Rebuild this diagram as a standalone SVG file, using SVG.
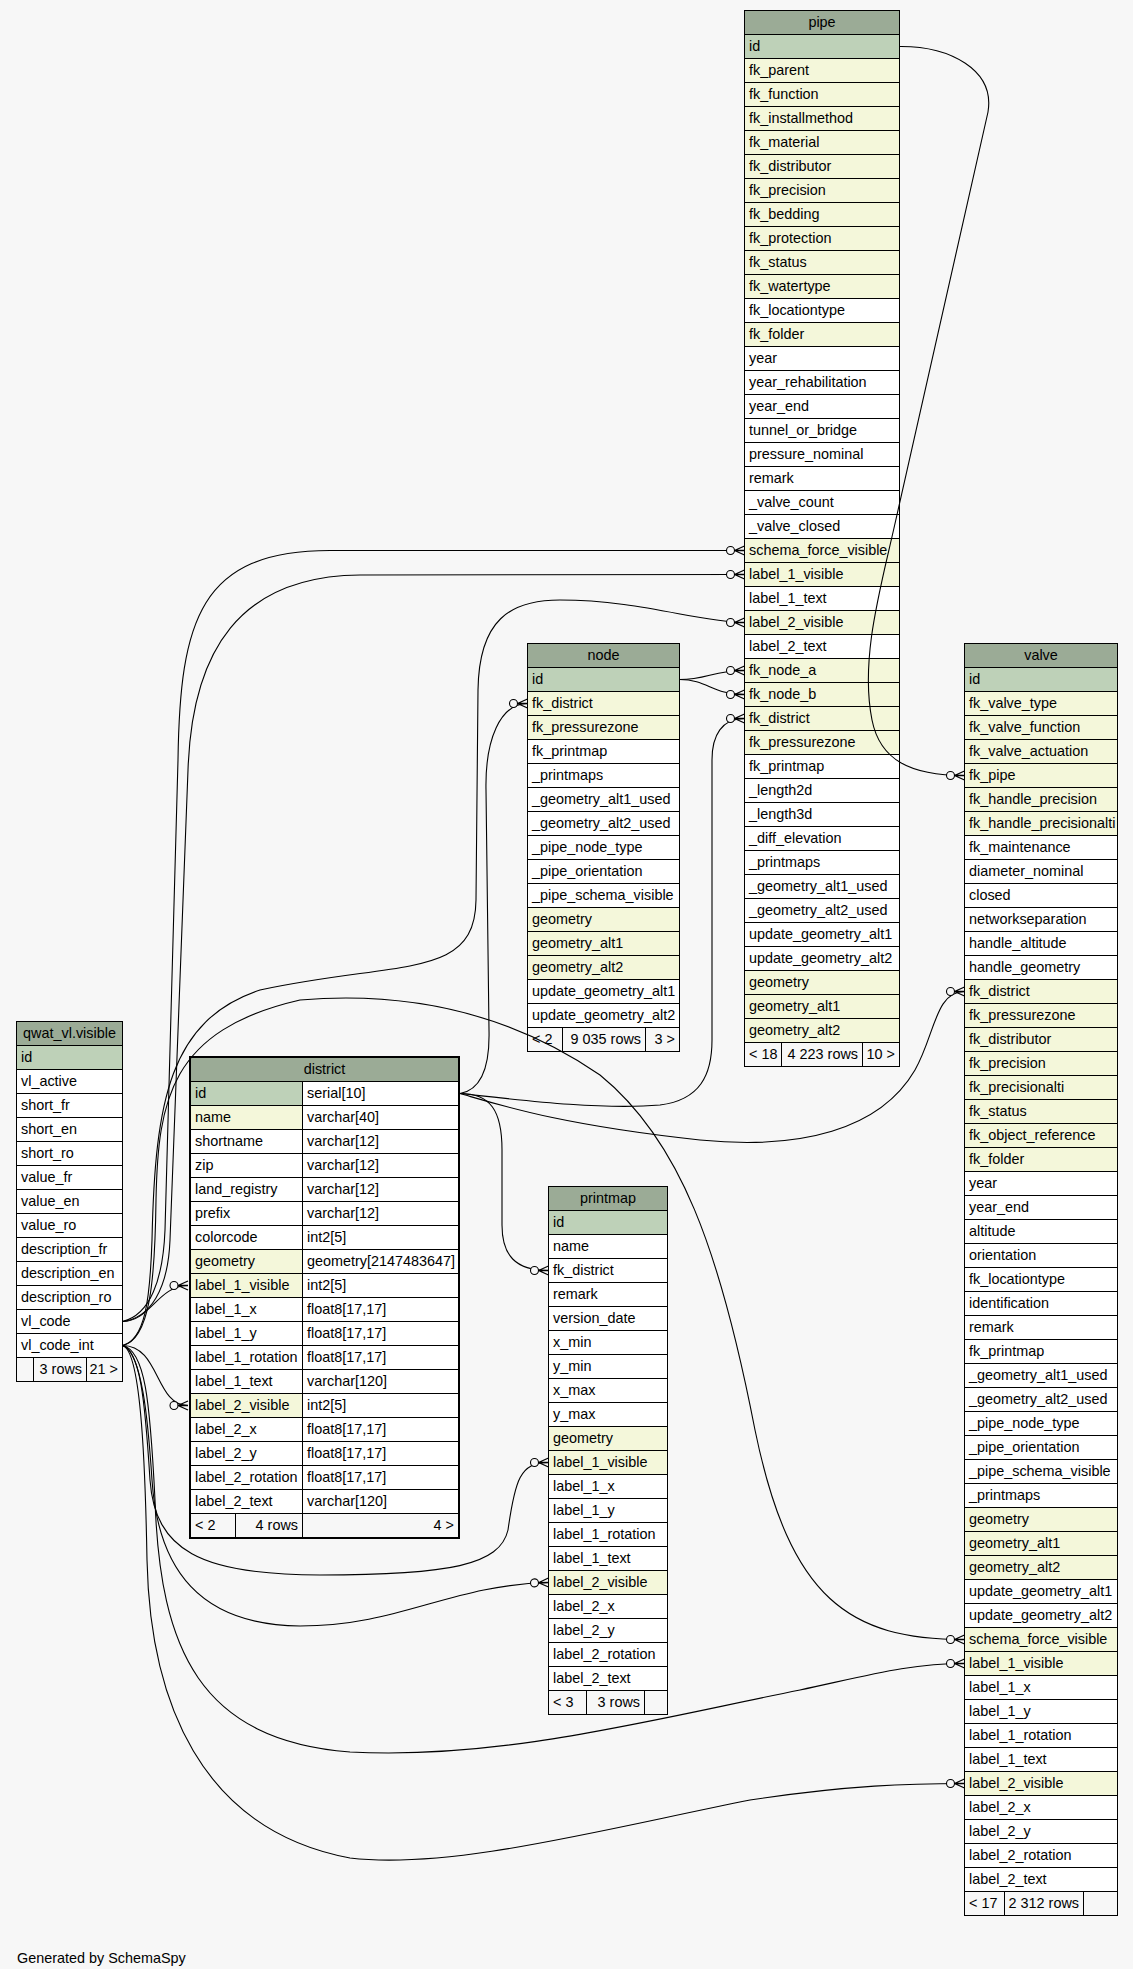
<svg xmlns="http://www.w3.org/2000/svg" width="1133" height="1969" viewBox="0 0 1133 1969">
<style>
text{font-family:"Liberation Sans",Arial,Helvetica,sans-serif;font-size:14.4px;fill:#000}
.c{text-anchor:middle}
.r{text-anchor:end}
rect{stroke:#000;stroke-width:1}
rect.bg{stroke:none;fill:#f7f7f7}
.h{fill:#9bab96}
.k{fill:#bed1b8}
.f{fill:#f4f7da}
.w{fill:#fff}
.g{fill:#f7f7f7}
.e{fill:none;stroke:#000;stroke-width:1.1;marker-end:url(#co)}
</style>
<defs>
<marker id="co" markerWidth="24" markerHeight="14" viewBox="-21 -7 24 14" refX="0" refY="0" orient="auto" markerUnits="userSpaceOnUse" overflow="visible">
<circle cx="-14" cy="0" r="4" fill="#f7f7f7" stroke="#000" stroke-width="1.1"/>
<path d="M-10,0 L0,-4.5 M-10,0 L0,0 M-10,0 L0,4.5" fill="none" stroke="#000" stroke-width="1.3"/>
</marker>
</defs>
<rect class="bg" x="0" y="0" width="1133" height="1969"/>

<g id="pipe">
<rect class="h" x="744.5" y="10.5" width="155" height="24"/><text class="c" x="822" y="26.5">pipe</text>
<rect class="k" x="744.5" y="34.5" width="155" height="24"/><text x="749" y="50.5">id</text>
<rect class="f" x="744.5" y="58.5" width="155" height="24"/><text x="749" y="74.5">fk_parent</text>
<rect class="f" x="744.5" y="82.5" width="155" height="24"/><text x="749" y="98.5">fk_function</text>
<rect class="f" x="744.5" y="106.5" width="155" height="24"/><text x="749" y="122.5">fk_installmethod</text>
<rect class="f" x="744.5" y="130.5" width="155" height="24"/><text x="749" y="146.5">fk_material</text>
<rect class="f" x="744.5" y="154.5" width="155" height="24"/><text x="749" y="170.5">fk_distributor</text>
<rect class="f" x="744.5" y="178.5" width="155" height="24"/><text x="749" y="194.5">fk_precision</text>
<rect class="f" x="744.5" y="202.5" width="155" height="24"/><text x="749" y="218.5">fk_bedding</text>
<rect class="f" x="744.5" y="226.5" width="155" height="24"/><text x="749" y="242.5">fk_protection</text>
<rect class="f" x="744.5" y="250.5" width="155" height="24"/><text x="749" y="266.5">fk_status</text>
<rect class="f" x="744.5" y="274.5" width="155" height="24"/><text x="749" y="290.5">fk_watertype</text>
<rect class="w" x="744.5" y="298.5" width="155" height="24"/><text x="749" y="314.5">fk_locationtype</text>
<rect class="f" x="744.5" y="322.5" width="155" height="24"/><text x="749" y="338.5">fk_folder</text>
<rect class="w" x="744.5" y="346.5" width="155" height="24"/><text x="749" y="362.5">year</text>
<rect class="w" x="744.5" y="370.5" width="155" height="24"/><text x="749" y="386.5">year_rehabilitation</text>
<rect class="w" x="744.5" y="394.5" width="155" height="24"/><text x="749" y="410.5">year_end</text>
<rect class="w" x="744.5" y="418.5" width="155" height="24"/><text x="749" y="434.5">tunnel_or_bridge</text>
<rect class="w" x="744.5" y="442.5" width="155" height="24"/><text x="749" y="458.5">pressure_nominal</text>
<rect class="w" x="744.5" y="466.5" width="155" height="24"/><text x="749" y="482.5">remark</text>
<rect class="w" x="744.5" y="490.5" width="155" height="24"/><text x="749" y="506.5">_valve_count</text>
<rect class="w" x="744.5" y="514.5" width="155" height="24"/><text x="749" y="530.5">_valve_closed</text>
<rect class="f" x="744.5" y="538.5" width="155" height="24"/><text x="749" y="554.5">schema_force_visible</text>
<rect class="f" x="744.5" y="562.5" width="155" height="24"/><text x="749" y="578.5">label_1_visible</text>
<rect class="w" x="744.5" y="586.5" width="155" height="24"/><text x="749" y="602.5">label_1_text</text>
<rect class="f" x="744.5" y="610.5" width="155" height="24"/><text x="749" y="626.5">label_2_visible</text>
<rect class="w" x="744.5" y="634.5" width="155" height="24"/><text x="749" y="650.5">label_2_text</text>
<rect class="f" x="744.5" y="658.5" width="155" height="24"/><text x="749" y="674.5">fk_node_a</text>
<rect class="f" x="744.5" y="682.5" width="155" height="24"/><text x="749" y="698.5">fk_node_b</text>
<rect class="f" x="744.5" y="706.5" width="155" height="24"/><text x="749" y="722.5">fk_district</text>
<rect class="f" x="744.5" y="730.5" width="155" height="24"/><text x="749" y="746.5">fk_pressurezone</text>
<rect class="w" x="744.5" y="754.5" width="155" height="24"/><text x="749" y="770.5">fk_printmap</text>
<rect class="w" x="744.5" y="778.5" width="155" height="24"/><text x="749" y="794.5">_length2d</text>
<rect class="w" x="744.5" y="802.5" width="155" height="24"/><text x="749" y="818.5">_length3d</text>
<rect class="w" x="744.5" y="826.5" width="155" height="24"/><text x="749" y="842.5">_diff_elevation</text>
<rect class="w" x="744.5" y="850.5" width="155" height="24"/><text x="749" y="866.5">_printmaps</text>
<rect class="w" x="744.5" y="874.5" width="155" height="24"/><text x="749" y="890.5">_geometry_alt1_used</text>
<rect class="w" x="744.5" y="898.5" width="155" height="24"/><text x="749" y="914.5">_geometry_alt2_used</text>
<rect class="w" x="744.5" y="922.5" width="155" height="24"/><text x="749" y="938.5">update_geometry_alt1</text>
<rect class="w" x="744.5" y="946.5" width="155" height="24"/><text x="749" y="962.5">update_geometry_alt2</text>
<rect class="f" x="744.5" y="970.5" width="155" height="24"/><text x="749" y="986.5">geometry</text>
<rect class="f" x="744.5" y="994.5" width="155" height="24"/><text x="749" y="1010.5">geometry_alt1</text>
<rect class="f" x="744.5" y="1018.5" width="155" height="24"/><text x="749" y="1034.5">geometry_alt2</text>
<rect class="g" x="744.5" y="1042.5" width="37" height="24"/><text x="749" y="1058.5">&lt; 18</text>
<rect class="g" x="781.5" y="1042.5" width="81" height="24"/><text class="r" x="858" y="1058.5">4 223 rows</text>
<rect class="g" x="862.5" y="1042.5" width="37" height="24"/><text class="r" x="895" y="1058.5">10 &gt;</text>
</g>

<g id="node">
<rect class="h" x="527.5" y="643.5" width="152" height="24"/><text class="c" x="603.5" y="659.5">node</text>
<rect class="k" x="527.5" y="667.5" width="152" height="24"/><text x="532" y="683.5">id</text>
<rect class="f" x="527.5" y="691.5" width="152" height="24"/><text x="532" y="707.5">fk_district</text>
<rect class="f" x="527.5" y="715.5" width="152" height="24"/><text x="532" y="731.5">fk_pressurezone</text>
<rect class="w" x="527.5" y="739.5" width="152" height="24"/><text x="532" y="755.5">fk_printmap</text>
<rect class="w" x="527.5" y="763.5" width="152" height="24"/><text x="532" y="779.5">_printmaps</text>
<rect class="w" x="527.5" y="787.5" width="152" height="24"/><text x="532" y="803.5">_geometry_alt1_used</text>
<rect class="w" x="527.5" y="811.5" width="152" height="24"/><text x="532" y="827.5">_geometry_alt2_used</text>
<rect class="w" x="527.5" y="835.5" width="152" height="24"/><text x="532" y="851.5">_pipe_node_type</text>
<rect class="w" x="527.5" y="859.5" width="152" height="24"/><text x="532" y="875.5">_pipe_orientation</text>
<rect class="w" x="527.5" y="883.5" width="152" height="24"/><text x="532" y="899.5">_pipe_schema_visible</text>
<rect class="f" x="527.5" y="907.5" width="152" height="24"/><text x="532" y="923.5">geometry</text>
<rect class="f" x="527.5" y="931.5" width="152" height="24"/><text x="532" y="947.5">geometry_alt1</text>
<rect class="f" x="527.5" y="955.5" width="152" height="24"/><text x="532" y="971.5">geometry_alt2</text>
<rect class="w" x="527.5" y="979.5" width="152" height="24"/><text x="532" y="995.5">update_geometry_alt1</text>
<rect class="w" x="527.5" y="1003.5" width="152" height="24"/><text x="532" y="1019.5">update_geometry_alt2</text>
<rect class="g" x="527.5" y="1027.5" width="35" height="24"/><text x="532" y="1043.5">&lt; 2</text>
<rect class="g" x="562.5" y="1027.5" width="83" height="24"/><text class="r" x="641" y="1043.5">9 035 rows</text>
<rect class="g" x="645.5" y="1027.5" width="34" height="24"/><text class="r" x="675" y="1043.5">3 &gt;</text>
</g>

<g id="valve">
<rect class="h" x="964.5" y="643.5" width="153" height="24"/><text class="c" x="1041" y="659.5">valve</text>
<rect class="k" x="964.5" y="667.5" width="153" height="24"/><text x="969" y="683.5">id</text>
<rect class="f" x="964.5" y="691.5" width="153" height="24"/><text x="969" y="707.5">fk_valve_type</text>
<rect class="f" x="964.5" y="715.5" width="153" height="24"/><text x="969" y="731.5">fk_valve_function</text>
<rect class="f" x="964.5" y="739.5" width="153" height="24"/><text x="969" y="755.5">fk_valve_actuation</text>
<rect class="f" x="964.5" y="763.5" width="153" height="24"/><text x="969" y="779.5">fk_pipe</text>
<rect class="f" x="964.5" y="787.5" width="153" height="24"/><text x="969" y="803.5">fk_handle_precision</text>
<rect class="f" x="964.5" y="811.5" width="153" height="24"/><text x="969" y="827.5">fk_handle_precisionalti</text>
<rect class="w" x="964.5" y="835.5" width="153" height="24"/><text x="969" y="851.5">fk_maintenance</text>
<rect class="w" x="964.5" y="859.5" width="153" height="24"/><text x="969" y="875.5">diameter_nominal</text>
<rect class="w" x="964.5" y="883.5" width="153" height="24"/><text x="969" y="899.5">closed</text>
<rect class="w" x="964.5" y="907.5" width="153" height="24"/><text x="969" y="923.5">networkseparation</text>
<rect class="w" x="964.5" y="931.5" width="153" height="24"/><text x="969" y="947.5">handle_altitude</text>
<rect class="w" x="964.5" y="955.5" width="153" height="24"/><text x="969" y="971.5">handle_geometry</text>
<rect class="f" x="964.5" y="979.5" width="153" height="24"/><text x="969" y="995.5">fk_district</text>
<rect class="f" x="964.5" y="1003.5" width="153" height="24"/><text x="969" y="1019.5">fk_pressurezone</text>
<rect class="f" x="964.5" y="1027.5" width="153" height="24"/><text x="969" y="1043.5">fk_distributor</text>
<rect class="f" x="964.5" y="1051.5" width="153" height="24"/><text x="969" y="1067.5">fk_precision</text>
<rect class="f" x="964.5" y="1075.5" width="153" height="24"/><text x="969" y="1091.5">fk_precisionalti</text>
<rect class="f" x="964.5" y="1099.5" width="153" height="24"/><text x="969" y="1115.5">fk_status</text>
<rect class="f" x="964.5" y="1123.5" width="153" height="24"/><text x="969" y="1139.5">fk_object_reference</text>
<rect class="f" x="964.5" y="1147.5" width="153" height="24"/><text x="969" y="1163.5">fk_folder</text>
<rect class="w" x="964.5" y="1171.5" width="153" height="24"/><text x="969" y="1187.5">year</text>
<rect class="w" x="964.5" y="1195.5" width="153" height="24"/><text x="969" y="1211.5">year_end</text>
<rect class="w" x="964.5" y="1219.5" width="153" height="24"/><text x="969" y="1235.5">altitude</text>
<rect class="w" x="964.5" y="1243.5" width="153" height="24"/><text x="969" y="1259.5">orientation</text>
<rect class="w" x="964.5" y="1267.5" width="153" height="24"/><text x="969" y="1283.5">fk_locationtype</text>
<rect class="w" x="964.5" y="1291.5" width="153" height="24"/><text x="969" y="1307.5">identification</text>
<rect class="w" x="964.5" y="1315.5" width="153" height="24"/><text x="969" y="1331.5">remark</text>
<rect class="w" x="964.5" y="1339.5" width="153" height="24"/><text x="969" y="1355.5">fk_printmap</text>
<rect class="w" x="964.5" y="1363.5" width="153" height="24"/><text x="969" y="1379.5">_geometry_alt1_used</text>
<rect class="w" x="964.5" y="1387.5" width="153" height="24"/><text x="969" y="1403.5">_geometry_alt2_used</text>
<rect class="w" x="964.5" y="1411.5" width="153" height="24"/><text x="969" y="1427.5">_pipe_node_type</text>
<rect class="w" x="964.5" y="1435.5" width="153" height="24"/><text x="969" y="1451.5">_pipe_orientation</text>
<rect class="w" x="964.5" y="1459.5" width="153" height="24"/><text x="969" y="1475.5">_pipe_schema_visible</text>
<rect class="w" x="964.5" y="1483.5" width="153" height="24"/><text x="969" y="1499.5">_printmaps</text>
<rect class="f" x="964.5" y="1507.5" width="153" height="24"/><text x="969" y="1523.5">geometry</text>
<rect class="f" x="964.5" y="1531.5" width="153" height="24"/><text x="969" y="1547.5">geometry_alt1</text>
<rect class="f" x="964.5" y="1555.5" width="153" height="24"/><text x="969" y="1571.5">geometry_alt2</text>
<rect class="w" x="964.5" y="1579.5" width="153" height="24"/><text x="969" y="1595.5">update_geometry_alt1</text>
<rect class="w" x="964.5" y="1603.5" width="153" height="24"/><text x="969" y="1619.5">update_geometry_alt2</text>
<rect class="f" x="964.5" y="1627.5" width="153" height="24"/><text x="969" y="1643.5">schema_force_visible</text>
<rect class="f" x="964.5" y="1651.5" width="153" height="24"/><text x="969" y="1667.5">label_1_visible</text>
<rect class="w" x="964.5" y="1675.5" width="153" height="24"/><text x="969" y="1691.5">label_1_x</text>
<rect class="w" x="964.5" y="1699.5" width="153" height="24"/><text x="969" y="1715.5">label_1_y</text>
<rect class="w" x="964.5" y="1723.5" width="153" height="24"/><text x="969" y="1739.5">label_1_rotation</text>
<rect class="w" x="964.5" y="1747.5" width="153" height="24"/><text x="969" y="1763.5">label_1_text</text>
<rect class="f" x="964.5" y="1771.5" width="153" height="24"/><text x="969" y="1787.5">label_2_visible</text>
<rect class="w" x="964.5" y="1795.5" width="153" height="24"/><text x="969" y="1811.5">label_2_x</text>
<rect class="w" x="964.5" y="1819.5" width="153" height="24"/><text x="969" y="1835.5">label_2_y</text>
<rect class="w" x="964.5" y="1843.5" width="153" height="24"/><text x="969" y="1859.5">label_2_rotation</text>
<rect class="w" x="964.5" y="1867.5" width="153" height="24"/><text x="969" y="1883.5">label_2_text</text>
<rect class="g" x="964.5" y="1891.5" width="40" height="24"/><text x="969" y="1907.5">&lt; 17</text>
<rect class="g" x="1004.5" y="1891.5" width="79" height="24"/><text class="r" x="1079" y="1907.5">2 312 rows</text>
<rect class="g" x="1083.5" y="1891.5" width="34" height="24"/>
</g>

<g id="district">
<rect class="h" x="190.5" y="1057.5" width="268" height="24"/><text class="c" x="324.5" y="1073.5">district</text>
<rect class="k" x="190.5" y="1081.5" width="112" height="24"/><text x="195" y="1097.5">id</text><rect class="w" x="302.5" y="1081.5" width="156" height="24"/><text x="307" y="1097.5">serial[10]</text>
<rect class="f" x="190.5" y="1105.5" width="112" height="24"/><text x="195" y="1121.5">name</text><rect class="w" x="302.5" y="1105.5" width="156" height="24"/><text x="307" y="1121.5">varchar[40]</text>
<rect class="w" x="190.5" y="1129.5" width="112" height="24"/><text x="195" y="1145.5">shortname</text><rect class="w" x="302.5" y="1129.5" width="156" height="24"/><text x="307" y="1145.5">varchar[12]</text>
<rect class="w" x="190.5" y="1153.5" width="112" height="24"/><text x="195" y="1169.5">zip</text><rect class="w" x="302.5" y="1153.5" width="156" height="24"/><text x="307" y="1169.5">varchar[12]</text>
<rect class="w" x="190.5" y="1177.5" width="112" height="24"/><text x="195" y="1193.5">land_registry</text><rect class="w" x="302.5" y="1177.5" width="156" height="24"/><text x="307" y="1193.5">varchar[12]</text>
<rect class="w" x="190.5" y="1201.5" width="112" height="24"/><text x="195" y="1217.5">prefix</text><rect class="w" x="302.5" y="1201.5" width="156" height="24"/><text x="307" y="1217.5">varchar[12]</text>
<rect class="w" x="190.5" y="1225.5" width="112" height="24"/><text x="195" y="1241.5">colorcode</text><rect class="w" x="302.5" y="1225.5" width="156" height="24"/><text x="307" y="1241.5">int2[5]</text>
<rect class="f" x="190.5" y="1249.5" width="112" height="24"/><text x="195" y="1265.5">geometry</text><rect class="w" x="302.5" y="1249.5" width="156" height="24"/><text x="307" y="1265.5">geometry[2147483647]</text>
<rect class="f" x="190.5" y="1273.5" width="112" height="24"/><text x="195" y="1289.5">label_1_visible</text><rect class="w" x="302.5" y="1273.5" width="156" height="24"/><text x="307" y="1289.5">int2[5]</text>
<rect class="w" x="190.5" y="1297.5" width="112" height="24"/><text x="195" y="1313.5">label_1_x</text><rect class="w" x="302.5" y="1297.5" width="156" height="24"/><text x="307" y="1313.5">float8[17,17]</text>
<rect class="w" x="190.5" y="1321.5" width="112" height="24"/><text x="195" y="1337.5">label_1_y</text><rect class="w" x="302.5" y="1321.5" width="156" height="24"/><text x="307" y="1337.5">float8[17,17]</text>
<rect class="w" x="190.5" y="1345.5" width="112" height="24"/><text x="195" y="1361.5">label_1_rotation</text><rect class="w" x="302.5" y="1345.5" width="156" height="24"/><text x="307" y="1361.5">float8[17,17]</text>
<rect class="w" x="190.5" y="1369.5" width="112" height="24"/><text x="195" y="1385.5">label_1_text</text><rect class="w" x="302.5" y="1369.5" width="156" height="24"/><text x="307" y="1385.5">varchar[120]</text>
<rect class="f" x="190.5" y="1393.5" width="112" height="24"/><text x="195" y="1409.5">label_2_visible</text><rect class="w" x="302.5" y="1393.5" width="156" height="24"/><text x="307" y="1409.5">int2[5]</text>
<rect class="w" x="190.5" y="1417.5" width="112" height="24"/><text x="195" y="1433.5">label_2_x</text><rect class="w" x="302.5" y="1417.5" width="156" height="24"/><text x="307" y="1433.5">float8[17,17]</text>
<rect class="w" x="190.5" y="1441.5" width="112" height="24"/><text x="195" y="1457.5">label_2_y</text><rect class="w" x="302.5" y="1441.5" width="156" height="24"/><text x="307" y="1457.5">float8[17,17]</text>
<rect class="w" x="190.5" y="1465.5" width="112" height="24"/><text x="195" y="1481.5">label_2_rotation</text><rect class="w" x="302.5" y="1465.5" width="156" height="24"/><text x="307" y="1481.5">float8[17,17]</text>
<rect class="w" x="190.5" y="1489.5" width="112" height="24"/><text x="195" y="1505.5">label_2_text</text><rect class="w" x="302.5" y="1489.5" width="156" height="24"/><text x="307" y="1505.5">varchar[120]</text>
<rect class="g" x="190.5" y="1513.5" width="45" height="24"/><text x="195" y="1529.5">&lt; 2</text>
<rect class="g" x="235.5" y="1513.5" width="67" height="24"/><text class="r" x="298" y="1529.5">4 rows</text>
<rect class="g" x="302.5" y="1513.5" width="156" height="24"/><text class="r" x="454" y="1529.5">4 &gt;</text>
<rect x="189.5" y="1056.5" width="270" height="482" fill="none" stroke="#000" stroke-width="3"/>
</g>

<g id="printmap">
<rect class="h" x="548.5" y="1186.5" width="119" height="24"/><text class="c" x="608" y="1202.5">printmap</text>
<rect class="k" x="548.5" y="1210.5" width="119" height="24"/><text x="553" y="1226.5">id</text>
<rect class="w" x="548.5" y="1234.5" width="119" height="24"/><text x="553" y="1250.5">name</text>
<rect class="w" x="548.5" y="1258.5" width="119" height="24"/><text x="553" y="1274.5">fk_district</text>
<rect class="w" x="548.5" y="1282.5" width="119" height="24"/><text x="553" y="1298.5">remark</text>
<rect class="w" x="548.5" y="1306.5" width="119" height="24"/><text x="553" y="1322.5">version_date</text>
<rect class="w" x="548.5" y="1330.5" width="119" height="24"/><text x="553" y="1346.5">x_min</text>
<rect class="w" x="548.5" y="1354.5" width="119" height="24"/><text x="553" y="1370.5">y_min</text>
<rect class="w" x="548.5" y="1378.5" width="119" height="24"/><text x="553" y="1394.5">x_max</text>
<rect class="w" x="548.5" y="1402.5" width="119" height="24"/><text x="553" y="1418.5">y_max</text>
<rect class="f" x="548.5" y="1426.5" width="119" height="24"/><text x="553" y="1442.5">geometry</text>
<rect class="f" x="548.5" y="1450.5" width="119" height="24"/><text x="553" y="1466.5">label_1_visible</text>
<rect class="w" x="548.5" y="1474.5" width="119" height="24"/><text x="553" y="1490.5">label_1_x</text>
<rect class="w" x="548.5" y="1498.5" width="119" height="24"/><text x="553" y="1514.5">label_1_y</text>
<rect class="w" x="548.5" y="1522.5" width="119" height="24"/><text x="553" y="1538.5">label_1_rotation</text>
<rect class="w" x="548.5" y="1546.5" width="119" height="24"/><text x="553" y="1562.5">label_1_text</text>
<rect class="f" x="548.5" y="1570.5" width="119" height="24"/><text x="553" y="1586.5">label_2_visible</text>
<rect class="w" x="548.5" y="1594.5" width="119" height="24"/><text x="553" y="1610.5">label_2_x</text>
<rect class="w" x="548.5" y="1618.5" width="119" height="24"/><text x="553" y="1634.5">label_2_y</text>
<rect class="w" x="548.5" y="1642.5" width="119" height="24"/><text x="553" y="1658.5">label_2_rotation</text>
<rect class="w" x="548.5" y="1666.5" width="119" height="24"/><text x="553" y="1682.5">label_2_text</text>
<rect class="g" x="548.5" y="1690.5" width="38" height="24"/><text x="553" y="1706.5">&lt; 3</text>
<rect class="g" x="586.5" y="1690.5" width="58" height="24"/><text class="r" x="640" y="1706.5">3 rows</text>
<rect class="g" x="644.5" y="1690.5" width="23" height="24"/>
</g>

<g id="qwat_vl.visible">
<rect class="h" x="16.5" y="1021.5" width="106" height="24"/><text class="c" x="69.5" y="1037.5">qwat_vl.visible</text>
<rect class="k" x="16.5" y="1045.5" width="106" height="24"/><text x="21" y="1061.5">id</text>
<rect class="w" x="16.5" y="1069.5" width="106" height="24"/><text x="21" y="1085.5">vl_active</text>
<rect class="w" x="16.5" y="1093.5" width="106" height="24"/><text x="21" y="1109.5">short_fr</text>
<rect class="w" x="16.5" y="1117.5" width="106" height="24"/><text x="21" y="1133.5">short_en</text>
<rect class="w" x="16.5" y="1141.5" width="106" height="24"/><text x="21" y="1157.5">short_ro</text>
<rect class="w" x="16.5" y="1165.5" width="106" height="24"/><text x="21" y="1181.5">value_fr</text>
<rect class="w" x="16.5" y="1189.5" width="106" height="24"/><text x="21" y="1205.5">value_en</text>
<rect class="w" x="16.5" y="1213.5" width="106" height="24"/><text x="21" y="1229.5">value_ro</text>
<rect class="w" x="16.5" y="1237.5" width="106" height="24"/><text x="21" y="1253.5">description_fr</text>
<rect class="w" x="16.5" y="1261.5" width="106" height="24"/><text x="21" y="1277.5">description_en</text>
<rect class="w" x="16.5" y="1285.5" width="106" height="24"/><text x="21" y="1301.5">description_ro</text>
<rect class="w" x="16.5" y="1309.5" width="106" height="24"/><text x="21" y="1325.5">vl_code</text>
<rect class="w" x="16.5" y="1333.5" width="106" height="24"/><text x="21" y="1349.5">vl_code_int</text>
<rect class="g" x="16.5" y="1357.5" width="17" height="24"/>
<rect class="g" x="33.5" y="1357.5" width="53" height="24"/><text class="r" x="82" y="1373.5">3 rows</text>
<rect class="g" x="86.5" y="1357.5" width="36" height="24"/><text class="r" x="118" y="1373.5">21 &gt;</text>
</g>

<g id="edges">
<path class="e" d="M899.5,46.5 C950,46 995,70 988,112 L894,528 C880,590 860,660 872,720 C880,760 910,775.5 964.5,775.5"/>
<path class="e" d="M679.5,679.5 C708,679.5 712,670.5 744.5,670.5"/>
<path class="e" d="M679.5,679.5 C708,679.5 712,694.5 744.5,694.5"/>
<path class="e" d="M460,1093.5 C520,1100 600,1110 660,1105 C700,1100 712,1075 712,1040 L712,760 C712,735 722,718.5 744.5,718.5"/>
<path class="e" d="M460,1093.5 C480,1090 490,1070 489,1030 L486,790 C485,740 500,703.5 527.5,703.5"/>
<path class="e" d="M460,1093.5 C490,1093.5 502,1110 502,1150 L502,1225 C502,1255 515,1270.5 548.5,1270.5"/>
<path class="e" d="M460,1093.5 C500,1105 560,1125 700,1140 C800,1150 880,1130 915,1070 C935,1035 935,991.5 964.5,991.5"/>
<path class="e" d="M122.5,1321.5 C150,1315 163,1280 165,1230 L178,760 C180,620 200,550.5 330,550.5 L744.5,550.5"/>
<path class="e" d="M122.5,1321.5 C150,1318 168,1290 170,1240 L188,770 C192,650 240,576 360,575 L744.5,574.5"/>
<path class="e" d="M122.5,1345.5 C145,1340 150,1300 152,1240 C155,1100 170,1020 260,990 C400,960 475,980 476,900 L478,690 C479,620 510,600 560,600 C640,600 700,622.5 744.5,622.5"/>
<path class="e" d="M122.5,1345.5 C150,1340 155,1280 156,1200 C158,1100 170,1030 300,1000 C420,990 520,1020 600,1075 C680,1140 720,1250 755,1430 C790,1600 850,1639.5 964.5,1639.5"/>
<path class="e" d="M122.5,1345.5 C145,1350 150,1400 155,1500 C160,1650 200,1740 350,1752 C500,1760 650,1720 800,1690 C870,1675 910,1663.5 964.5,1663.5"/>
<path class="e" d="M122.5,1345.5 C140,1350 145,1450 147,1560 C150,1700 200,1830 350,1858 C450,1870 600,1830 750,1800 C850,1785 910,1783.5 964.5,1783.5"/>
<path class="e" d="M122.5,1345.5 C140,1350 145,1400 150,1480 C155,1550 200,1575 320,1575 C450,1575 500,1565 508,1530 C515,1480 520,1462.5 548.5,1462.5"/>
<path class="e" d="M122.5,1345.5 C142,1352 148,1420 152,1480 C158,1570 200,1625 300,1626 C400,1626 450,1585 548.5,1582.5"/>
<path class="e" d="M122.5,1321.5 C150,1321.5 158,1285.5 188,1285.5"/>
<path class="e" d="M122.5,1345.5 C160,1345.5 155,1405.5 188,1405.5"/>
</g>

<text x="17" y="1963">Generated by SchemaSpy</text>
</svg>
